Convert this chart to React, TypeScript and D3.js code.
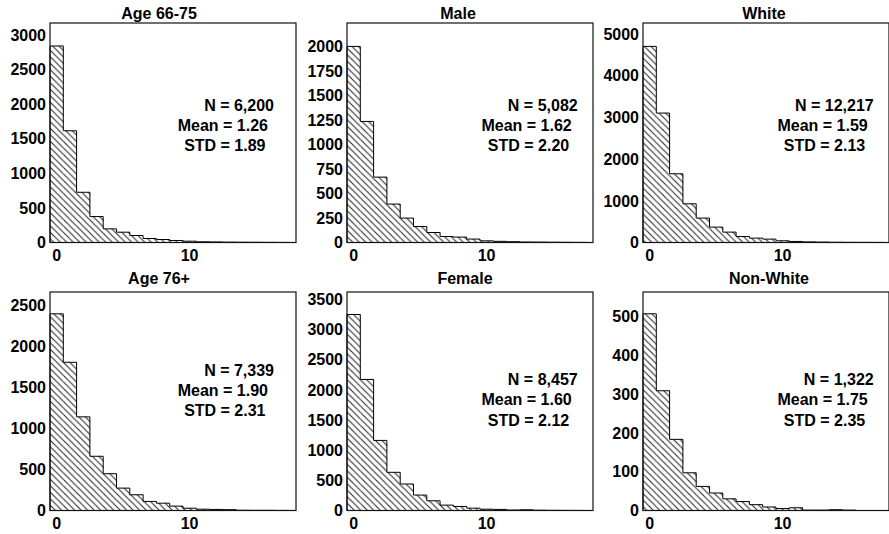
import React from "react";
import * as d3 from "d3";

// ---------- data ----------
const panelTitles = ["Age 66-75", "Male", "White", "Age 76+", "Female", "Non-White"];
const bins = [0, 1, 2, 3, 4, 5, 6, 7, 8, 9, 10, 11, 12, 13, 14, 15, 16, 17];

const countsAge6675 = [2841, 1615, 726, 375, 197, 149, 101, 58, 43, 29, 19, 10, 8, 5, 4, 3, 2, 1];
const countsMale = [2000, 1235, 667, 392, 249, 163, 102, 61, 55, 35, 17, 12, 8, 5, 4, 3, 2, 1];
const countsWhite = [4703, 3104, 1648, 928, 585, 369, 249, 144, 105, 81, 41, 25, 15, 10, 6, 4, 3, 2];
const countsAge76 = [2390, 1801, 1138, 659, 447, 272, 191, 110, 89, 53, 28, 16, 13, 10, 3, 2, 2, 1];
const countsFemale = [3250, 2173, 1162, 633, 439, 256, 161, 89, 67, 39, 22, 18, 8, 12, 5, 3, 2, 1];
const countsNonWhite = [506, 308, 183, 97, 62, 45, 30, 23, 15, 9, 5, 7, 1, 1, 2, 1, 0, 0];

const statsN = ["6,200", "5,082", "12,217", "7,339", "8,457", "1,322"];
const statsMean = ["1.26", "1.62", "1.59", "1.90", "1.60", "1.75"];
const statsSTD = ["1.89", "2.20", "2.13", "2.31", "2.12", "2.35"];

const yMaxes = [3173, 2239, 5264, 2655, 3623, 562];
const yTicksAge6675 = [0, 500, 1000, 1500, 2000, 2500, 3000];
const yTicksMale = [0, 250, 500, 750, 1000, 1250, 1500, 1750, 2000];
const yTicksWhite = [0, 1000, 2000, 3000, 4000, 5000];
const yTicksAge76 = [0, 500, 1000, 1500, 2000, 2500];
const yTicksFemale = [0, 500, 1000, 1500, 2000, 2500, 3000, 3500];
const yTicksNonWhite = [0, 100, 200, 300, 400, 500];
const xTicks = [0, 10];

const allCounts = [countsAge6675, countsMale, countsWhite, countsAge76, countsFemale, countsNonWhite];
const allYTicks = [yTicksAge6675, yTicksMale, yTicksWhite, yTicksAge76, yTicksFemale, yTicksNonWhite];

// ---------- layout ----------
const W = 889;
const H = 534;
const colLeft = [50, 347, 643];
const boxW = 246;
const rowTop = [23, 292];
const rowBottom = [242.5, 510.5];
const titleX = [159, 458, 764, 159, 465, 769];
const titleBaseline = [19, 284];
const statsRightGap = [22, 15.3, 15.3];
const statsLineOffset = [0, 6, 8.5];
const statsCenterY = [105, 105, 105, 370, 379.3, 379.3];
const FONT = "'Liberation Sans', Arial, Helvetica, sans-serif";
const FS = 16;
const HS = 6.5; // hatch tile size

function Panel({ p }: { p: number }) {
  const col = p % 3;
  const row = Math.floor(p / 3);
  const left = colLeft[col];
  const right = left + boxW;
  const top = rowTop[row];
  const bottom = rowBottom[row];
  const x = d3.scaleLinear().domain([-0.5, 18]).range([left, right]);
  const y = d3.scaleLinear().domain([0, yMaxes[p]]).range([bottom, top]);
  const counts = allCounts[p];
  const statsRight = right - statsRightGap[col];
  const lines = [
    `N = ${statsN[p]}`,
    `Mean = ${statsMean[p]}`,
    `STD = ${statsSTD[p]}`,
  ];
  // step outline of the histogram
  const pts: [number, number][] = [[x(bins[0] - 0.5), y(0)]];
  bins.forEach((b, i) => {
    pts.push([x(b - 0.5), y(counts[i])]);
    pts.push([x(b + 0.5), y(counts[i])]);
  });
  pts.push([x(bins[bins.length - 1] + 0.5), y(0)]);
  const outline = d3.line()(pts) || "";
  return (
    <g>
      <text
        x={titleX[p]}
        y={titleBaseline[row]}
        textAnchor="middle"
        fontFamily={FONT}
        fontWeight="bold"
        fontSize={FS}
      >
        {panelTitles[p]}
      </text>
      {bins.map((b, i) => {
        const c = counts[i];
        if (!c) return null;
        const x0 = x(b - 0.5);
        const x1 = x(b + 0.5);
        return (
          <rect
            key={i}
            x={x0}
            y={y(c)}
            width={x1 - x0 + 0.3}
            height={bottom - y(c)}
            fill="url(#hatch)"
            stroke="none"
          />
        );
      })}
      <path d={outline} fill="none" stroke="#000" strokeWidth={1} />
      <rect
        x={left}
        y={top}
        width={boxW}
        height={bottom - top}
        fill="none"
        stroke="#111"
        strokeWidth={1.2}
      />
      {allYTicks[p].map((t) => (
        <text
          key={t}
          x={left - 4}
          y={y(t)}
          dy="0.36em"
          textAnchor="end"
          fontFamily={FONT}
          fontWeight="bold"
          fontSize={FS}
        >
          {t}
        </text>
      ))}
      {xTicks.map((t) => (
        <text
          key={t}
          x={x(t)}
          y={bottom + 18}
          textAnchor="middle"
          fontFamily={FONT}
          fontWeight="bold"
          fontSize={FS}
        >
          {t}
        </text>
      ))}
      {lines.map((s, i) => (
        <text
          key={i}
          x={statsRight - statsLineOffset[i]}
          y={statsCenterY[p] + i * 20.3}
          dy="0.36em"
          textAnchor="end"
          fontFamily={FONT}
          fontWeight="bold"
          fontSize={FS}
        >
          {s}
        </text>
      ))}
    </g>
  );
}

export default function App() {
  return (
    <svg
      width={W}
      height={H}
      style={{ position: "absolute", left: 0, top: 0, background: "#fff" }}
    >
      <defs>
        <pattern id="hatch" patternUnits="userSpaceOnUse" width={HS} height={HS}>
          <rect width={HS} height={HS} fill="#fff" />
          <path
            d={`M0,0 L${HS},${HS} M-1,${HS - 1} L1,${HS + 1} M${HS - 1},-1 L${HS + 1},1`}
            stroke="#222"
            strokeWidth={1}
          />
        </pattern>
      </defs>
      <rect width={W} height={H} fill="#fff" />
      {panelTitles.map((_, p) => (
        <Panel key={p} p={p} />
      ))}
    </svg>
  );
}
